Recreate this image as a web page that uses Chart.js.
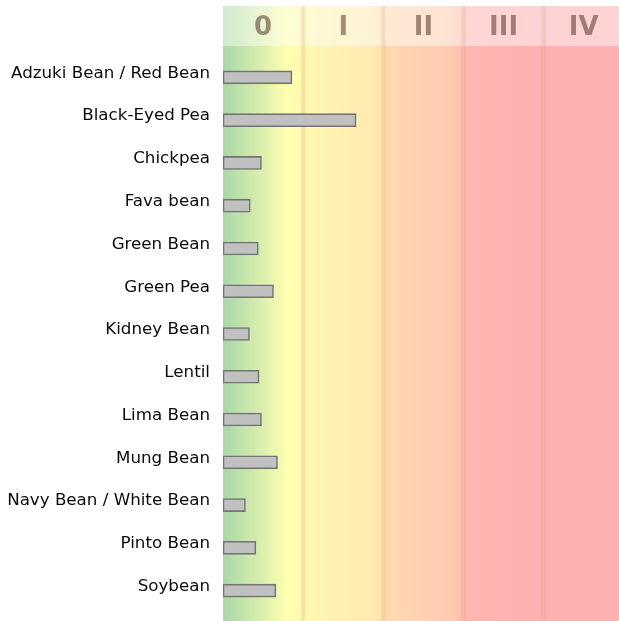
<!DOCTYPE html>
<html>
<head>
<meta charset="utf-8">
<script src="https://cdn.jsdelivr.net/npm/chart.js@4.4.1/dist/chart.umd.min.js"></script>
<style>
    html, body { margin: 0; padding: 0; background: #ffffff; overflow: hidden; }
    #beanChart { display: block; }
</style>
</head>
<body>
<canvas id="beanChart" width="619" height="621"></canvas>
<script>
const beanNames = [
    'Adzuki Bean / Red Bean',
    'Black-Eyed Pea',
    'Chickpea',
    'Fava bean',
    'Green Bean',
    'Green Pea',
    'Kidney Bean',
    'Lentil',
    'Lima Bean',
    'Mung Bean',
    'Navy Bean / White Bean',
    'Pinto Bean',
    'Soybean'
];
const beanScores = [0.86, 1.66, 0.48, 0.34, 0.44, 0.63, 0.33, 0.45, 0.48, 0.68, 0.28, 0.41, 0.66];
const stageLabels = ['0', 'I', 'II', 'III', 'IV'];
const stageColors = [
    ['#a8d8a8', '#ffffb0', '#fffab0'],
    ['#fff8b0', '#ffeab0', '#ffe2b0'],
    ['#ffdab0', '#ffcab0', '#ffbeb0'],
    ['#ffb6b0', '#ffb0b0', '#ffb0b0'],
    ['#ffb0b0', '#ffb0b0', '#ffb0b0']
];

const stageBackground = {
    id: 'stageBackground',
    beforeDatasetsDraw(chart) {
        const ctx = chart.ctx;
        const x = chart.scales.x;
        const area = chart.chartArea;
        const headerTop = 6;
        const headerBottom = 46;
        const bottom = chart.height;

        ctx.save();
        stageLabels.forEach(function (label, i) {
            const left = x.getPixelForValue(i);
            const right = x.getPixelForValue(i + 1);
            const grad = ctx.createLinearGradient(left, 0, right, 0);
            grad.addColorStop(0, stageColors[i][0]);
            grad.addColorStop(0.82, stageColors[i][1]);
            grad.addColorStop(1, stageColors[i][2]);
            ctx.fillStyle = grad;
            ctx.fillRect(left, headerTop, right - left, bottom - headerTop);
        });

        // lighter header strip
        ctx.fillStyle = 'rgba(255, 255, 255, 0.45)';
        ctx.fillRect(area.left, headerTop, area.right - area.left, headerBottom - headerTop);

        // band separators
        ctx.filter = 'blur(0.8px)';
        ctx.fillStyle = 'rgba(190, 140, 100, 0.28)';
        for (let i = 1; i < stageLabels.length; i++) {
            const px = x.getPixelForValue(i);
            ctx.fillRect(px - 1.5, headerTop, 3, bottom - headerTop);
        }

        // stage numerals
        ctx.filter = 'blur(0.5px)';
        ctx.font = 'bold 26px "DejaVu Sans"';
        ctx.textAlign = 'center';
        ctx.textBaseline = 'middle';
        ctx.fillStyle = 'rgba(70, 45, 30, 0.52)';
        stageLabels.forEach(function (label, i) {
            ctx.fillText(label, x.getPixelForValue(i + 0.5), 28);
        });
        ctx.restore();
    }
};

const ctx = document.getElementById('beanChart').getContext('2d');
new Chart(ctx, {
    type: 'bar',
    data: {
        labels: beanNames,
        datasets: [
            {
                data: beanScores,
                backgroundColor: '#c0c0c0',
                borderColor: '#747474',
                borderWidth: 1.6,
                borderSkipped: false,
                barThickness: 13
            }
        ]
    },
    options: {
        indexAxis: 'y',
        responsive: false,
        animation: false,
        layout: {
            padding: { top: 56, bottom: 9, left: 0, right: 0 }
        },
        plugins: {
            legend: { display: false },
            tooltip: { enabled: false }
        },
        scales: {
            x: {
                display: false,
                min: 0,
                max: 4.94
            },
            y: {
                afterFit: function (scale) {
                    scale.width = 223;
                    scale.paddingTop = 0;
                    scale.paddingBottom = 0;
                },
                grid: { display: false, drawTicks: false },
                border: { display: false },
                ticks: {
                    padding: 13,
                    labelOffset: -4,
                    color: '#0a0a0a',
                    font: { family: '"DejaVu Sans"', size: 16.7 }
                }
            }
        }
    },
    plugins: [stageBackground]
});
</script>
</body>
</html>
